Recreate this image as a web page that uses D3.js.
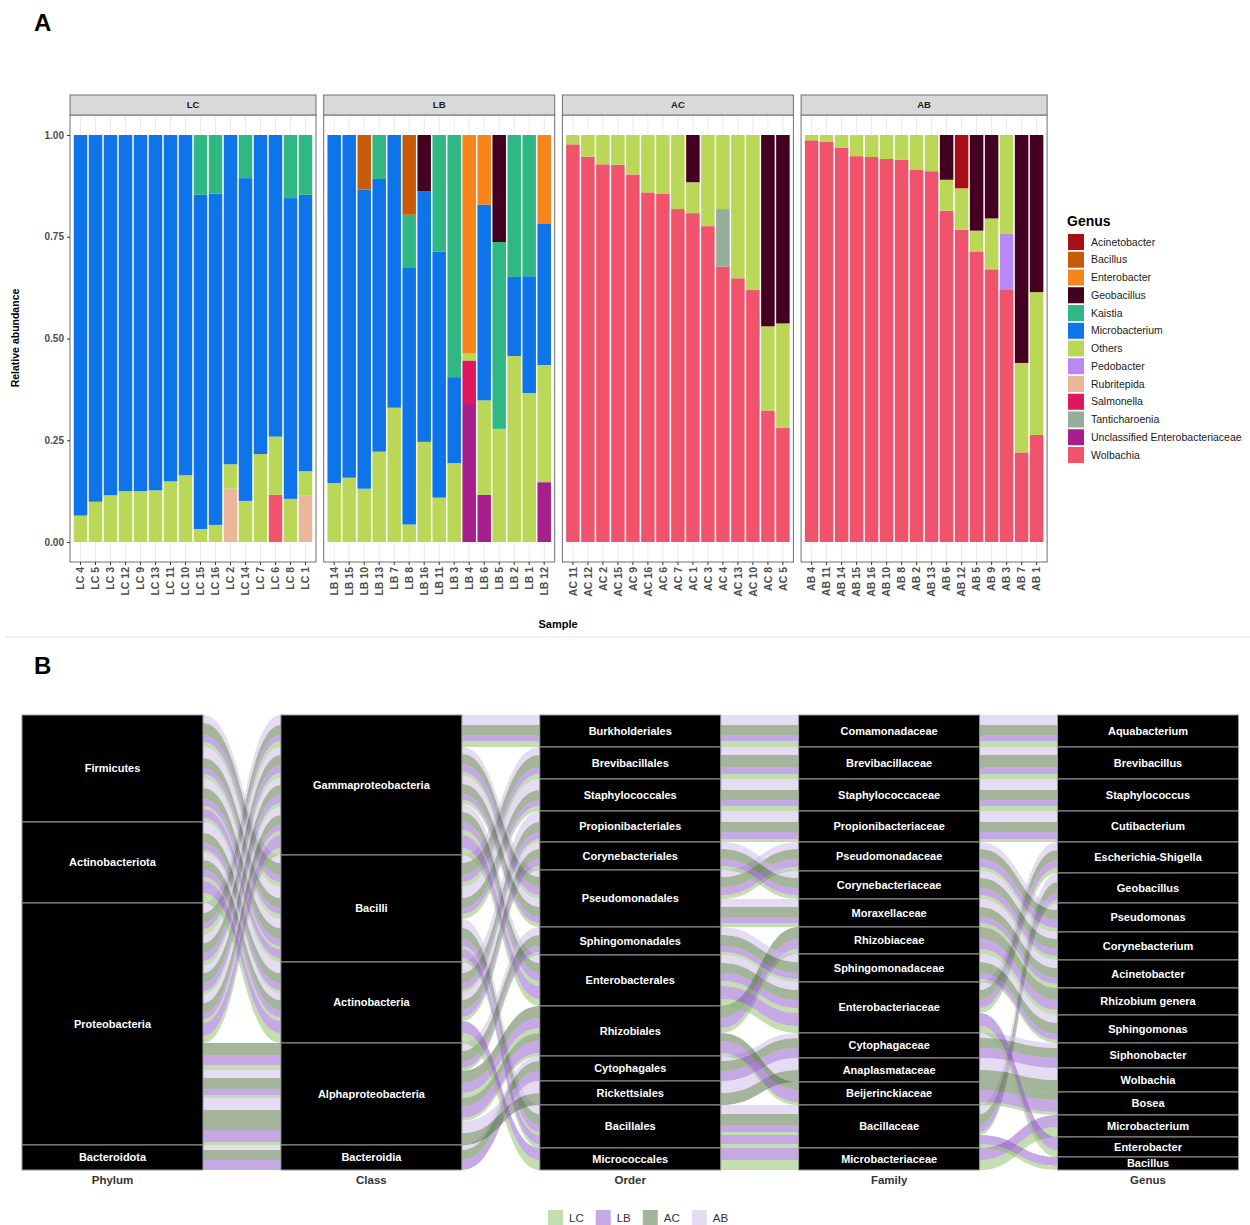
<!DOCTYPE html>
<html>
<head>
<meta charset="utf-8">
<script src="https://cdn.jsdelivr.net/npm/d3@7"></script>
<style>
  body { margin: 0; background: #fff; }
  svg { display: block; font-family: "Liberation Sans", Arial, sans-serif; }
</style>
</head>
<body>
<svg id="chart" width="1250" height="1225"></svg>
<script>
// ---- panel A data (relative abundance per sample, bottom to top) ----
const genera = ["Acinetobacter", "Bacillus", "Enterobacter", "Geobacillus", "Kaistia", "Microbacterium",
  "Others", "Pedobacter", "Rubritepida", "Salmonella", "Tanticharoenia",
  "Unclassified Enterobacteriaceae", "Wolbachia"];
const genusColours = ["#A50F15", "#C75B0A", "#F7851B", "#430020", "#2FB884", "#0F73EA",
  "#BAD757", "#B888F5", "#EAB898", "#E0165E", "#95AE9B", "#A61F8C", "#F0536B"];

const lcBars = [
  ["LC 4", {Others: .065, Microbacterium: .935}],
  ["LC 5", {Others: .099, Microbacterium: .901}],
  ["LC 3", {Others: .115, Microbacterium: .885}],
  ["LC 12", {Others: .125, Microbacterium: .875}],
  ["LC 9", {Others: .125, Microbacterium: .875}],
  ["LC 13", {Others: .127, Microbacterium: .873}],
  ["LC 11", {Others: .149, Microbacterium: .851}],
  ["LC 10", {Others: .164, Microbacterium: .836}],
  ["LC 15", {Others: .032, Microbacterium: .821, Kaistia: .147}],
  ["LC 16", {Others: .042, Microbacterium: .814, Kaistia: .144}],
  ["LC 2", {Rubritepida: .131, Others: .060, Microbacterium: .809}],
  ["LC 14", {Others: .101, Microbacterium: .793, Kaistia: .106}],
  ["LC 7", {Others: .216, Microbacterium: .784}],
  ["LC 6", {Wolbachia: .116, Others: .143, Microbacterium: .741}],
  ["LC 8", {Others: .106, Microbacterium: .739, Kaistia: .155}],
  ["LC 1", {Rubritepida: .115, Others: .059, Microbacterium: .679, Kaistia: .147}]
];
const lbBars = [
  ["LB 14", {Others: .145, Microbacterium: .855}],
  ["LB 15", {Others: .158, Microbacterium: .842}],
  ["LB 10", {Others: .131, Microbacterium: .735, Bacillus: .134}],
  ["LB 13", {Others: .222, Microbacterium: .670, Kaistia: .108}],
  ["LB 7", {Others: .330, Microbacterium: .670}],
  ["LB 8", {Others: .043, Microbacterium: .632, Kaistia: .129, Bacillus: .196}],
  ["LB 16", {Others: .246, Microbacterium: .616, Geobacillus: .138}],
  ["LB 11", {Others: .109, Microbacterium: .604, Kaistia: .287}],
  ["LB 3", {Others: .194, Microbacterium: .211, Kaistia: .595}],
  ["LB 4", {"Unclassified Enterobacteriaceae": .339, Salmonella: .107, Others: .017, Enterobacter: .537}],
  ["LB 6", {"Unclassified Enterobacteriaceae": .116, Others: .232, Microbacterium: .481, Enterobacter: .171}],
  ["LB 5", {Others: .278, Kaistia: .459, Geobacillus: .263}],
  ["LB 2", {Others: .457, Microbacterium: .194, Kaistia: .349}],
  ["LB 1", {Others: .366, Microbacterium: .287, Kaistia: .347}],
  ["LB 12", {"Unclassified Enterobacteriaceae": .147, Others: .288, Microbacterium: .348, Enterobacter: .217}]
];
const acBars = [
  ["AC 11", {Wolbachia: .977, Others: .023}],
  ["AC 12", {Wolbachia: .947, Others: .053}],
  ["AC 2", {Wolbachia: .928, Others: .072}],
  ["AC 15", {Wolbachia: .927, Others: .073}],
  ["AC 9", {Wolbachia: .903, Others: .097}],
  ["AC 16", {Wolbachia: .859, Others: .141}],
  ["AC 6", {Wolbachia: .855, Others: .145}],
  ["AC 7", {Wolbachia: .818, Others: .182}],
  ["AC 1", {Wolbachia: .808, Others: .076, Geobacillus: .116}],
  ["AC 3", {Wolbachia: .776, Others: .224}],
  ["AC 4", {Wolbachia: .677, Tanticharoenia: .141, Others: .182}],
  ["AC 13", {Wolbachia: .648, Others: .352}],
  ["AC 10", {Wolbachia: .619, Others: .381}],
  ["AC 8", {Wolbachia: .323, Others: .207, Geobacillus: .470}],
  ["AC 5", {Wolbachia: .280, Others: .257, Geobacillus: .463}]
];
const abBars = [
  ["AB 4", {Wolbachia: .987, Others: .013}],
  ["AB 11", {Wolbachia: .984, Others: .016}],
  ["AB 14", {Wolbachia: .969, Others: .031}],
  ["AB 15", {Wolbachia: .948, Others: .052}],
  ["AB 16", {Wolbachia: .946, Others: .054}],
  ["AB 10", {Wolbachia: .941, Others: .059}],
  ["AB 8", {Wolbachia: .939, Others: .061}],
  ["AB 2", {Wolbachia: .914, Others: .086}],
  ["AB 13", {Wolbachia: .911, Others: .089}],
  ["AB 6", {Wolbachia: .814, Others: .076, Geobacillus: .110}],
  ["AB 12", {Wolbachia: .767, Others: .102, Acinetobacter: .131}],
  ["AB 5", {Wolbachia: .714, Others: .051, Geobacillus: .235}],
  ["AB 9", {Wolbachia: .670, Others: .125, Geobacillus: .205}],
  ["AB 3", {Wolbachia: .621, Pedobacter: .136, Others: .243}],
  ["AB 7", {Wolbachia: .220, Others: .220, Geobacillus: .560}],
  ["AB 1", {Wolbachia: .263, Others: .351, Geobacillus: .386}]
];
const facets = [["LC", lcBars], ["LB", lbBars], ["AC", acBars], ["AB", abBars]];
const yTicks = [0, 0.25, 0.5, 0.75, 1];

// ---- panel B data (alluvial, taxonomy strata) ----
const ranks = ["Phylum", "Class", "Order", "Family", "Genus"];
const phylumStrata = ["Firmicutes", "Actinobacteriota", "Proteobacteria", "Bacteroidota"];
const classStrata = ["Gammaproteobacteria", "Bacilli", "Actinobacteria", "Alphaproteobacteria", "Bacteroidia"];
const orderStrata = ["Burkholderiales", "Brevibacillales", "Staphylococcales", "Propionibacteriales",
  "Corynebacteriales", "Pseudomonadales", "Sphingomonadales", "Enterobacterales", "Rhizobiales",
  "Cytophagales", "Rickettsiales", "Bacillales", "Micrococcales"];
const familyStrata = ["Comamonadaceae", "Brevibacillaceae", "Staphylococcaceae", "Propionibacteriaceae",
  "Pseudomonadaceae", "Corynebacteriaceae", "Moraxellaceae", "Rhizobiaceae", "Sphingomonadaceae",
  "Enterobacteriaceae", "Cytophagaceae", "Anaplasmataceae", "Beijerinckiaceae", "Bacillaceae",
  "Microbacteriaceae"];
const genusStrata = ["Aquabacterium", "Brevibacillus", "Staphylococcus", "Cutibacterium",
  "Escherichia-Shigella", "Geobacillus", "Pseudomonas", "Corynebacterium", "Acinetobacter",
  "Rhizobium genera", "Sphingomonas", "Siphonobacter", "Wolbachia", "Bosea", "Microbacterium",
  "Enterobacter", "Bacillus"];
// lineage of each genus above
const genusPhylum = ["Proteobacteria", "Firmicutes", "Firmicutes", "Actinobacteriota", "Proteobacteria",
  "Firmicutes", "Proteobacteria", "Actinobacteriota", "Proteobacteria", "Proteobacteria", "Proteobacteria",
  "Bacteroidota", "Proteobacteria", "Proteobacteria", "Actinobacteriota", "Proteobacteria", "Firmicutes"];
const genusClass = ["Gammaproteobacteria", "Bacilli", "Bacilli", "Actinobacteria", "Gammaproteobacteria",
  "Bacilli", "Gammaproteobacteria", "Actinobacteria", "Gammaproteobacteria", "Alphaproteobacteria",
  "Alphaproteobacteria", "Bacteroidia", "Alphaproteobacteria", "Alphaproteobacteria", "Actinobacteria",
  "Gammaproteobacteria", "Bacilli"];
const genusOrder = ["Burkholderiales", "Brevibacillales", "Staphylococcales", "Propionibacteriales",
  "Enterobacterales", "Bacillales", "Pseudomonadales", "Corynebacteriales", "Pseudomonadales",
  "Rhizobiales", "Sphingomonadales", "Cytophagales", "Rickettsiales", "Rhizobiales", "Micrococcales",
  "Enterobacterales", "Bacillales"];
const genusFamily = ["Comamonadaceae", "Brevibacillaceae", "Staphylococcaceae", "Propionibacteriaceae",
  "Enterobacteriaceae", "Bacillaceae", "Pseudomonadaceae", "Corynebacteriaceae", "Moraxellaceae",
  "Rhizobiaceae", "Sphingomonadaceae", "Cytophagaceae", "Anaplasmataceae", "Beijerinckiaceae",
  "Microbacteriaceae", "Enterobacteriaceae", "Bacillaceae"];
const groups = ["LC", "LB", "AC", "AB"];
const groupColours = ["#87bf61", "#8d53c9", "#4b6b39", "#cbb9e7"];
// flow sizes per genus (same order as genusStrata)
const lcFlow = [6, 5, 5, 3, 5, 3, 4, 4, 4, 5, 3, 0, 0, 3, 10, 7, 4];
const lbFlow = [6, 7, 6, 7, 8, 7, 8, 7, 6, 10, 6, 10, 0, 12, 12, 13, 9];
const acFlow = [10, 12, 10, 10, 10, 11, 10, 10, 10, 12, 11, 10, 12, 8, 0, 0, 0];
const abFlow = [10, 8, 11, 11, 8, 9, 7, 7, 8, 0, 8, 5, 12, 0, 0, 0, 0];

const svg = d3.select("#chart");

// ================= PANEL A =================
svg.append("text").attr("x", 34).attr("y", 31).attr("font-size", 24).attr("font-weight", "bold").text("A");

const y = d3.scaleLinear().domain([0, 1]).range([542, 135]);
const colour = d3.scaleOrdinal().domain(genera).range(genusColours);
// ggplot stacks the first level on top, so stack the reversed keys
const stack = d3.stack().keys(genera.slice().reverse()).value((d, k) => d[1][k] || 0);

const panelTop = 115, panelBottom = 562;
let left = 70;
facets.forEach(([name, rows]) => {
  const w = rows.length * 15 + 6;
  const x = d3.scaleBand().domain(rows.map(r => r[0]))
    .range([left + 3, left + w - 3]).paddingInner(0.1).paddingOuter(0.05);
  const g = svg.append("g");

  g.selectAll("line.grid").data(rows).join("line")
    .attr("x1", d => x(d[0]) + x.bandwidth() / 2).attr("x2", d => x(d[0]) + x.bandwidth() / 2)
    .attr("y1", panelTop).attr("y2", panelBottom)
    .attr("stroke", "#ebebeb").attr("stroke-width", 1);

  g.selectAll("g.series").data(stack(rows)).join("g")
    .attr("fill", d => colour(d.key))
    .selectAll("rect").data(d => d.filter(p => p[1] - p[0] > 0)).join("rect")
    .attr("x", d => x(d.data[0])).attr("width", x.bandwidth())
    .attr("y", d => y(d[1])).attr("height", d => y(d[0]) - y(d[1]));

  g.append("rect").attr("x", left).attr("y", panelTop).attr("width", w).attr("height", panelBottom - panelTop)
    .attr("fill", "none").attr("stroke", "#6e6e6e").attr("stroke-width", 1);

  // facet strip
  g.append("rect").attr("x", left).attr("y", 95).attr("width", w).attr("height", 20)
    .attr("fill", "#d9d9d9").attr("stroke", "#6e6e6e").attr("stroke-width", 1);
  g.append("text").attr("x", left + w / 2).attr("y", 105).attr("dy", "0.35em")
    .attr("text-anchor", "middle").attr("font-size", 9.5).attr("font-weight", "bold")
    .attr("fill", "#1a1a1a").text(name);

  const xa = g.append("g").attr("transform", `translate(0,${panelBottom})`)
    .call(d3.axisBottom(x).tickSize(3).tickSizeOuter(0));
  xa.select(".domain").remove();
  xa.selectAll(".tick line").attr("stroke", "#333");
  xa.selectAll(".tick text")
    .attr("transform", "rotate(-90)").attr("x", -5).attr("y", 0).attr("dy", "0.35em")
    .attr("text-anchor", "end").attr("font-size", 10.5).attr("font-weight", "bold")
    .attr("font-family", "Liberation Sans, Arial, sans-serif").attr("fill", "#4d4d4d");

  if (name === "LC") {
    const ya = g.append("g").attr("transform", `translate(${left},0)`)
      .call(d3.axisLeft(y).tickValues(yTicks).tickFormat(d3.format(".2f")).tickSize(3).tickSizeOuter(0));
    ya.select(".domain").remove();
    ya.selectAll(".tick line").attr("stroke", "#333");
    ya.selectAll(".tick text").attr("font-size", 10).attr("font-weight", "bold")
      .attr("font-family", "Liberation Sans, Arial, sans-serif").attr("fill", "#4d4d4d");
  }
  left += w + 7.7;
});

svg.append("text").attr("transform", "translate(19,338) rotate(-90)").attr("text-anchor", "middle")
  .attr("font-size", 10.5).attr("font-weight", "bold").text("Relative abundance");
svg.append("text").attr("x", 558).attr("y", 628).attr("text-anchor", "middle")
  .attr("font-size", 11).attr("font-weight", "bold").text("Sample");

// legend
const lg = svg.append("g");
lg.append("text").attr("x", 1067).attr("y", 226).attr("font-size", 14).attr("font-weight", "bold").text("Genus");
const lItems = lg.selectAll("g.item").data(genera).join("g")
  .attr("transform", (d, i) => `translate(1068,${234 + i * 17.75})`);
lItems.append("rect").attr("width", 16).attr("height", 16).attr("fill", d => colour(d));
lItems.append("text").attr("x", 23).attr("y", 8).attr("dy", "0.35em")
  .attr("font-size", 10.5).attr("fill", "#1a1a1a").text(d => d);

svg.append("line").attr("x1", 5).attr("x2", 1250).attr("y1", 637).attr("y2", 637)
  .attr("stroke", "#e3e3e3").attr("stroke-width", 1);

// ================= PANEL B =================
svg.append("text").attr("x", 34).attr("y", 674).attr("font-size", 24).attr("font-weight", "bold").text("B");

const strataLists = [phylumStrata, classStrata, orderStrata, familyStrata, genusStrata];
const flowByGroup = [lcFlow, lbFlow, acFlow, abFlow];
const alluvia = [];
genusStrata.forEach((gname, gi) => {
  groups.forEach((grp, k) => {
    alluvia.push({
      gi, group: grp, colour: groupColours[k], rank: groups.length - 1 - k,
      value: flowByGroup[k][gi],
      path: [genusPhylum[gi], genusClass[gi], genusOrder[gi], genusFamily[gi], gname]
    });
  });
});
const total = d3.sum(alluvia, a => a.value);
const yB = d3.scaleLinear().domain([0, total]).range([715, 1170]);
const xB = d3.scalePoint().domain(ranks).range([112.5, 1148]);
const boxW = 181;
const idx = (ai, name) => strataLists[ai].indexOf(name);

const strata = strataLists.map((list, ai) => {
  let acc = 0;
  return list.map(name => {
    const v = d3.sum(alluvia.filter(a => a.path[ai] === name), a => a.value);
    const s = {ai, name, y0: acc, y1: acc + v};
    acc += v;
    return s;
  });
});

// place lodes inside each stratum, sorted by the stratum on the other side
function lodes(ai, other) {
  const pos = new Map();
  strataLists[ai].forEach((name, si) => {
    const members = alluvia.filter(a => a.path[ai] === name)
      .sort((a, b) => idx(other, a.path[other]) - idx(other, b.path[other]) || a.gi - b.gi || a.rank - b.rank);
    let acc = strata[ai][si].y0;
    members.forEach(a => { pos.set(a, [acc, acc + a.value]); acc += a.value; });
  });
  return pos;
}

const flows = [];
for (let ai = 0; ai < ranks.length - 1; ai++) {
  const l = lodes(ai, ai + 1), r = lodes(ai + 1, ai);
  alluvia.filter(a => a.value > 0).forEach(a => {
    flows.push({a, x0: xB(ranks[ai]) + boxW / 2, x1: xB(ranks[ai + 1]) - boxW / 2, l: l.get(a), r: r.get(a)});
  });
}

function flowPath(f) {
  const xm = (f.x0 + f.x1) / 2;
  const la = yB(f.l[0]), lb = yB(f.l[1]), ra = yB(f.r[0]), rb = yB(f.r[1]);
  return `M${f.x0},${la}C${xm},${la} ${xm},${ra} ${f.x1},${ra}` +
    `L${f.x1},${rb}C${xm},${rb} ${xm},${lb} ${f.x0},${lb}Z`;
}

svg.append("g").selectAll("path").data(flows).join("path")
  .attr("d", flowPath).attr("fill", f => f.a.colour).attr("fill-opacity", 0.5);

const sg = svg.append("g").selectAll("g").data(strata.flat()).join("g");
sg.append("rect")
  .attr("x", d => xB(ranks[d.ai]) - boxW / 2).attr("width", boxW)
  .attr("y", d => yB(d.y0)).attr("height", d => yB(d.y1) - yB(d.y0))
  .attr("fill", "#000").attr("stroke", "#9a9a9a").attr("stroke-width", 1);
sg.append("text")
  .attr("x", d => xB(ranks[d.ai])).attr("y", d => (yB(d.y0) + yB(d.y1)) / 2).attr("dy", "0.35em")
  .attr("text-anchor", "middle").attr("font-size", 11).attr("font-weight", "bold")
  .attr("fill", "#fff").text(d => d.name);

svg.append("g").selectAll("text").data(ranks).join("text")
  .attr("x", d => xB(d)).attr("y", 1184).attr("text-anchor", "middle")
  .attr("font-size", 11.5).attr("font-weight", "bold").attr("fill", "#333").text(d => d);

// group legend
let lx = 548;
groups.forEach((grp, k) => {
  svg.append("rect").attr("x", lx).attr("y", 1210).attr("width", 15).attr("height", 15)
    .attr("fill", groupColours[k]).attr("fill-opacity", 0.5);
  const t = svg.append("text").attr("x", lx + 21).attr("y", 1218).attr("dy", "0.35em")
    .attr("font-size", 11.5).attr("fill", "#333").text(grp);
  lx += 21 + t.node().getComputedTextLength() + 12;
});
</script>
</body>
</html>
